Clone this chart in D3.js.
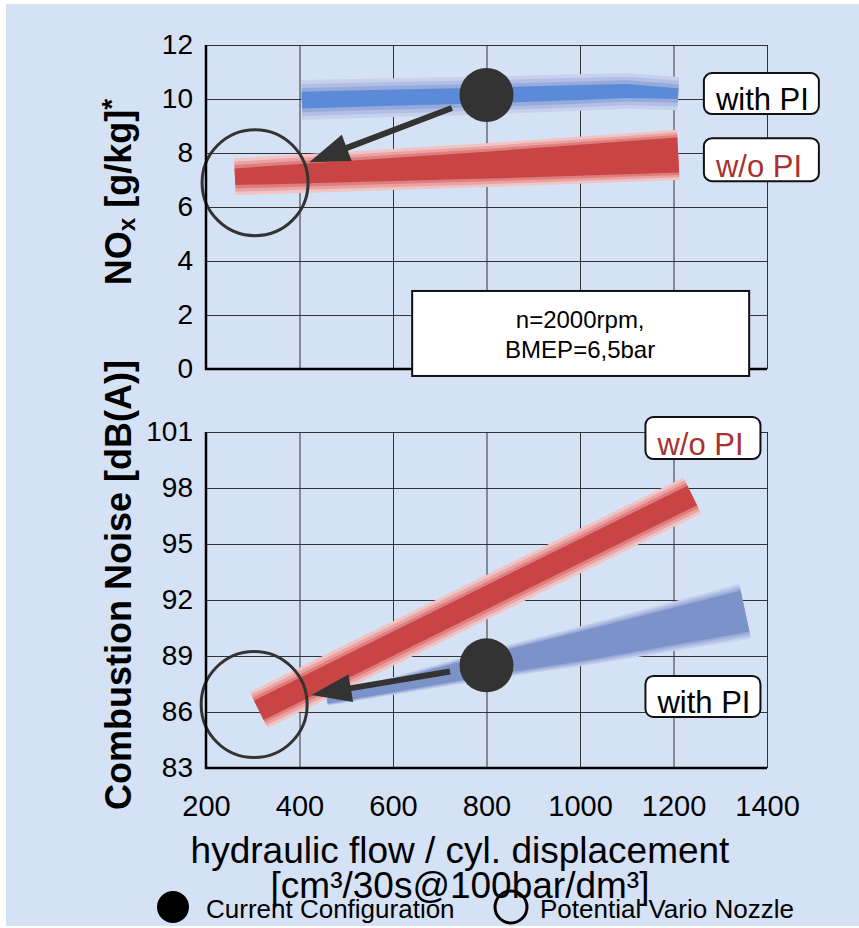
<!DOCTYPE html>
<html>
<head>
<meta charset="utf-8">
<script src="https://cdnjs.cloudflare.com/ajax/libs/d3/7.8.5/d3.min.js"></script>
<style>
body { margin: 0; background: #fff; }
svg { display: block; }
text { font-family: "Liberation Sans", Arial, sans-serif; }
</style>
</head>
<body>
<div id="chart"></div>
<script>
const width = 859, height = 928;

// axes
const xTicks = [200, 400, 600, 800, 1000, 1200, 1400];
const noxTicks = [0, 2, 4, 6, 8, 10, 12];
const noiseTicks = [83, 86, 89, 92, 95, 98, 101];

// scatter bands: x, centre value, outer half spread, core half spread
const noxWithX = [405, 600, 800, 1000, 1100, 1210];
const noxWithMid = [9.96, 10.05, 10.13, 10.24, 10.3, 10.2];
const noxWithOuter = [0.74, 0.72, 0.7, 0.68, 0.66, 0.62];
const noxWithCore = [0.31, 0.3, 0.29, 0.28, 0.26, 0.2];

const noxWoX = [262, 800, 1210];
const noxWoMid = [7.12, 7.55, 7.93];
const noxWoOuter = [0.68, 0.81, 0.93];
const noxWoCore = [0.31, 0.5, 0.65];

const noiseWoX = [313, 1240];
const noiseWoMid = [86.1, 97.6];
const noiseWoOuter = [1.2, 1.2];
const noiseWoCore = [0.65, 0.65];

const noiseWithX = [459, 800, 1000, 1353];
const noiseWithMid = [86.6, 88.5, 89.5, 91.4];
const noiseWithOuter = [0.27, 0.78, 1.07, 1.53];
const noiseWithCore = [0.16, 0.57, 0.8, 1.15];

// current configuration -> potential vario nozzle
const noxCurrent = [800, 10.15], noxPotential = [305, 6.9];
const noiseCurrent = [800, 88.5], noisePotential = [303, 86.4];

const blueTop = ['#c8d1ec', '#b1bee5', '#98aadc', '#5b8ad9'];
const redBand = ['#f1c3c3', '#eaa2a2', '#df7e7e', '#c94545'];
const blueBot = ['#c5cfeb', '#b0bde3', '#9aabdb', '#7c93ca'];

const svg = d3.select('#chart').append('svg')
    .attr('width', width).attr('height', height);

svg.append('rect').attr('x', 6).attr('y', 4)
    .attr('width', width - 6).attr('height', 922)
    .attr('fill', '#d5e1f4');

const x = d3.scaleLinear().domain([200, 1400]).range([206, 767]);
const yTop = d3.scaleLinear().domain([0, 12]).range([369, 45]);
const yBot = d3.scaleLinear().domain([83, 101]).range([768, 432]);

function grid(y, ticks) {
    const [y0, y1] = y.range();
    const gx = svg.append('g').attr('transform', `translate(0,${y0})`)
        .call(d3.axisBottom(x).tickValues(xTicks).tickSize(-(y0 - y1)).tickFormat(''));
    gx.select('.domain').remove();
    gx.selectAll('line').attr('stroke', '#333').attr('stroke-width', 1);

    const gy = svg.append('g').attr('transform', `translate(${x.range()[0]},0)`)
        .call(d3.axisLeft(y).tickValues(ticks).tickSize(-(x.range()[1] - x.range()[0])).tickPadding(13));
    gy.select('.domain').remove();
    gy.selectAll('line').attr('stroke', '#333').attr('stroke-width', 1);
    gy.selectAll('text').attr('font-size', 28).attr('fill', '#000')
        .style('font-family', '"Liberation Sans", Arial, sans-serif');
}

function band(y, xs, mid, outer, core, colors) {
    const fr = [1, 0.66, 0.33, 0];
    fr.forEach((f, k) => {
        const pts = xs.map((d, i) => {
            const s = core[i] + (outer[i] - core[i]) * f;
            return [x(d), y(mid[i]), y(mid[i] - s) - y(mid[i])];
        });
        const up = [], lo = [];
        pts.forEach((p, i) => {
            const a = pts[Math.max(i - 1, 0)], b = pts[Math.min(i + 1, pts.length - 1)];
            let tx = b[0] - a[0], ty = b[1] - a[1];
            const len = Math.hypot(tx, ty); tx /= len; ty /= len;
            const h = p[2] * tx;
            up.push([p[0] + ty * h, p[1] - tx * h]);
            lo.push([p[0] - ty * h, p[1] + tx * h]);
        });
        svg.append('path')
            .attr('d', d3.line()(up.concat(lo.reverse())) + 'Z')
            .attr('fill', colors[k]);
    });
}

function arrow(y, from, to, r1, r2) {
    const p0 = [x(from[0]), y(from[1])], p1 = [x(to[0]), y(to[1])];
    const dx = p1[0] - p0[0], dy = p1[1] - p0[1], L = Math.hypot(dx, dy);
    const ux = dx / L, uy = dy / L;
    const s = [p0[0] + ux * (r1 + 10), p0[1] + uy * (r1 + 10)];
    const t = [p1[0] - ux * (r2 + 5), p1[1] - uy * (r2 + 5)];
    const headLen = 40, headW = 14;
    const base = [t[0] - ux * headLen, t[1] - uy * headLen];
    svg.append('line')
        .attr('x1', s[0]).attr('y1', s[1])
        .attr('x2', base[0] + ux * 4).attr('y2', base[1] + uy * 4)
        .attr('stroke', '#333').attr('stroke-width', 6);
    svg.append('path')
        .attr('d', d3.line()([t, [base[0] - uy * headW, base[1] + ux * headW], [base[0] + uy * headW, base[1] - ux * headW]]) + 'Z')
        .attr('fill', '#333');
}

function markers(y, cur, pot) {
    svg.append('circle').attr('cx', x(pot[0])).attr('cy', y(pot[1])).attr('r', 53)
        .attr('fill', 'none').attr('stroke', '#333').attr('stroke-width', 3);
    arrow(y, cur, pot, 27, 53);
    svg.append('circle').attr('cx', x(cur[0])).attr('cy', y(cur[1])).attr('r', 27)
        .attr('fill', '#333');
}

function axisLines(y) {
    const [x0, x1] = x.range(), [y0, y1] = y.range();
    svg.append('path').attr('d', `M${x0},${y1}V${y0}H${x1}`)
        .attr('fill', 'none').attr('stroke', '#000').attr('stroke-width', 2.5);
}

function labelBox(left, top, w, h, txt, color) {
    svg.append('rect').attr('x', left).attr('y', top).attr('width', w).attr('height', h)
        .attr('rx', 8).attr('fill', '#fff').attr('stroke', '#111').attr('stroke-width', 2);
    svg.append('text').attr('x', left + 12).attr('y', top + h - 4)
        .attr('font-size', 31).attr('fill', color).text(txt);
}

// top: NOx
grid(yTop, noxTicks);
band(yTop, noxWithX, noxWithMid, noxWithOuter, noxWithCore, blueTop);
band(yTop, noxWoX, noxWoMid, noxWoOuter, noxWoCore, redBand);
markers(yTop, noxCurrent, noxPotential);
axisLines(yTop);
labelBox(x(1265), yTop(10.96), 115, 41, 'with PI', '#000');
labelBox(x(1265), yTop(8.55), 115, 43, 'w/o PI', '#a83232');

svg.append('rect').attr('x', x(641)).attr('y', yTop(2.89))
    .attr('width', 337).attr('height', 85)
    .attr('fill', '#fff').attr('stroke', '#111').attr('stroke-width', 2);
svg.append('text').attr('x', x(641) + 168).attr('y', yTop(2.89) + 37)
    .attr('text-anchor', 'middle').attr('font-size', 24).text('n=2000rpm,');
svg.append('text').attr('x', x(641) + 168).attr('y', yTop(2.89) + 67)
    .attr('text-anchor', 'middle').attr('font-size', 24).text('BMEP=6,5bar');

// bottom: combustion noise
grid(yBot, noiseTicks);
band(yBot, noiseWithX, noiseWithMid, noiseWithOuter, noiseWithCore, blueBot);
band(yBot, noiseWoX, noiseWoMid, noiseWoOuter, noiseWoCore, redBand);
markers(yBot, noiseCurrent, noisePotential);
axisLines(yBot);
labelBox(x(1140), yBot(101.8), 115, 42, 'w/o PI', '#a83232');
labelBox(x(1140), yBot(87.93), 115, 41, 'with PI', '#000');

// x tick labels
const gxl = svg.append('g').attr('transform', `translate(0,${yBot.range()[0]})`)
    .call(d3.axisBottom(x).tickValues(xTicks).tickFormat(d3.format('d')).tickSize(0).tickPadding(27));
gxl.select('.domain').remove();
gxl.selectAll('text').attr('font-size', 29).attr('fill', '#000')
    .style('font-family', '"Liberation Sans", Arial, sans-serif');

// y titles
const t1 = svg.append('text').attr('transform', 'translate(131,192) rotate(-90)')
    .attr('text-anchor', 'middle').attr('font-size', 36).attr('font-weight', 'bold');
t1.append('tspan').text('NO');
t1.append('tspan').attr('font-size', 24).attr('dy', 4).text('x');
t1.append('tspan').attr('dy', -4).text(' [g/kg]');
t1.append('tspan').attr('font-size', 28).attr('dy', -10).text('*');

svg.append('text').attr('transform', 'translate(131,585) rotate(-90)')
    .attr('text-anchor', 'middle').attr('font-size', 36).attr('font-weight', 'bold')
    .text('Combustion Noise [dB(A)]');

// legend
svg.append('circle').attr('cx', 173).attr('cy', 907).attr('r', 16).attr('fill', '#000');
svg.append('text').attr('x', 206).attr('y', 918).attr('font-size', 26).text('Current Configuration');
svg.append('circle').attr('cx', 511).attr('cy', 907).attr('r', 16)
    .attr('fill', 'none').attr('stroke', '#000').attr('stroke-width', 3);
svg.append('text').attr('x', 540).attr('y', 918).attr('font-size', 26).text('Potential Vario Nozzle');

// x title
svg.append('text').attr('x', 460).attr('y', 863).attr('text-anchor', 'middle')
    .attr('font-size', 37).text('hydraulic flow / cyl. displacement');
svg.append('text').attr('x', 460).attr('y', 898).attr('text-anchor', 'middle')
    .attr('font-size', 37).text('[cm³/30s@100bar/dm³]');
</script>
</body>
</html>
